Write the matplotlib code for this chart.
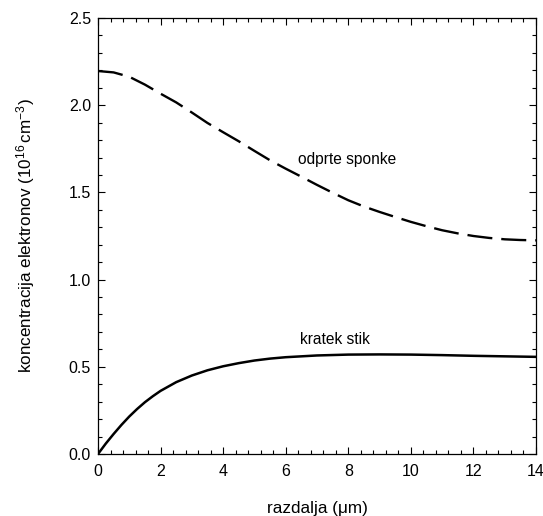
import matplotlib
matplotlib.use('Agg')
import matplotlib.pyplot as plt
from matplotlib.ticker import MultipleLocator, FormatStrFormatter

plt.rcParams['font.family'] = ['Liberation Sans', 'DejaVu Sans']
plt.rcParams['mathtext.default'] = 'regular'

# odprte sponke (dashed)
x_open = [0, 0.5, 1.0, 1.5, 2.0, 2.5, 3.0, 3.5, 4.0, 4.5, 5.0, 5.5, 6.0, 6.5, 7.0,
          7.5, 8.0, 8.5, 9.0, 9.5, 10.0, 10.5, 11.0, 11.5, 12.0, 12.5, 13.0, 13.5, 14.0]
y_open = [2.196, 2.188, 2.163, 2.118, 2.066, 2.016, 1.958, 1.898, 1.845, 1.793, 1.738,
          1.684, 1.636, 1.590, 1.543, 1.498, 1.455, 1.419, 1.388, 1.359, 1.331, 1.306,
          1.283, 1.265, 1.250, 1.239, 1.231, 1.227, 1.225]

# kratek stik (solid)
x_short = [0, 0.25, 0.5, 0.75, 1.0, 1.25, 1.5, 1.75, 2.0, 2.5, 3.0, 3.5, 4.0, 4.5,
           5.0, 5.5, 6.0, 7.0, 8.0, 9.0, 10.0, 11.0, 12.0, 13.0, 14.0]
y_short = [0.0, 0.06, 0.115, 0.167, 0.215, 0.258, 0.297, 0.331, 0.362, 0.412, 0.450,
           0.480, 0.503, 0.521, 0.536, 0.547, 0.555, 0.565, 0.570, 0.571, 0.570, 0.567,
           0.563, 0.560, 0.557]

fig = plt.figure(figsize=(5.43, 5.16), dpi=100)
ax = fig.add_axes([98 / 543, 1 - 454 / 516, 438 / 543, 436 / 516])

ax.plot(x_open, y_open, color='black', lw=1.7, linestyle=(0, (10.6, 3.8)))
ax.plot(x_short, y_short, color='black', lw=1.8)

ax.text(7.97, 1.69, 'odprte sponke', ha='center', va='center', fontsize=11.2)
ax.text(7.58, 0.654, 'kratek stik', ha='center', va='center', fontsize=11.2)

ax.set_xlim(0, 14)
ax.set_ylim(0, 2.5)
ax.xaxis.set_major_locator(MultipleLocator(2))
ax.xaxis.set_minor_locator(MultipleLocator(0.4))
ax.yaxis.set_major_locator(MultipleLocator(0.5))
ax.yaxis.set_minor_locator(MultipleLocator(0.1))
ax.yaxis.set_major_formatter(FormatStrFormatter('%.1f'))
ax.tick_params(which='both', direction='in', top=True, right=True, labelsize=11.5, width=0.8)
ax.tick_params(which='major', length=5, pad=5)
ax.tick_params(axis='x', which='major', pad=7)
ax.tick_params(which='minor', length=3)
for s in ax.spines.values():
    s.set_linewidth(0.9)

ax.set_xlabel('razdalja (μm)', fontsize=12.3, labelpad=16)
ax.set_ylabel('koncentracija elektronov (10$^{16}\\,$cm$^{-3}$)', fontsize=12.3, labelpad=23)

fig.savefig('out.png', dpi=100)
